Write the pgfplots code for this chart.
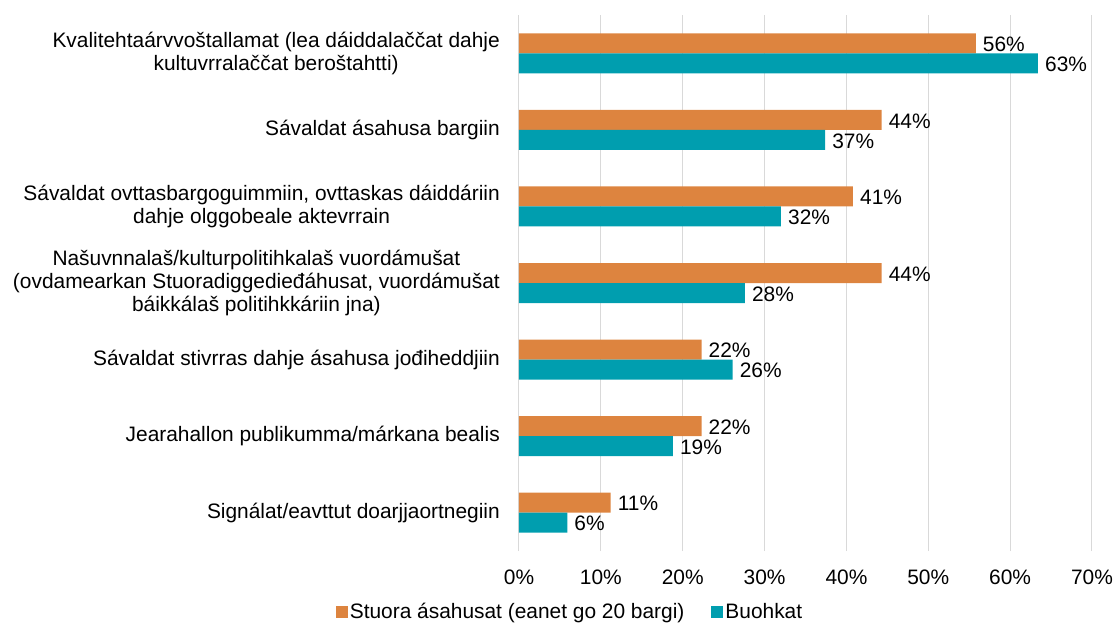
\documentclass[border=0pt]{standalone}
\usepackage{fontspec}
\setmainfont{Liberation Sans}
\usepackage{pgfplots}
\pgfplotsset{compat=1.18}
\definecolor{corange}{HTML}{DD843F}
\definecolor{cteal}{HTML}{009EAF}
\definecolor{cgrid}{HTML}{D9D9D9}
\newcommand{\cf}{\fontsize{20.9}{23.3}\selectfont}
\begin{document}
\cf
\begin{tikzpicture}
\useasboundingbox (0,0) rectangle (1117pt,625pt);
\begin{axis}[
  at={(519pt,74pt)}, anchor=south west,
  scale only axis, width=573pt, height=536pt,
  xbar, bar width=20pt,
  xmin=0, xmax=70, ymin=-0.5, ymax=6.5,
  xtick={0,10,...,70},
  xticklabel={\pgfmathprintnumber{\tick}\%},
  /pgf/number format/assume math mode=true,
  xmajorgrids, grid style={cgrid, line width=1pt},
  major tick length=0pt,
  axis line style={draw=none},
  ytick={0,...,6},
  yticklabels={
    {Signálat/eavttut doarjjaortnegiin},
    {Jearahallon publikumma/márkana bealis},
    {Sávaldat stivrras dahje ásahusa jođiheddjiin},
    {Našuvnnalaš/kulturpolitihkalaš vuordámušat\\(ovdamearkan Stuoradiggedieđáhusat, vuordámušat\\báikkálaš politihkkáriin jna)},
    {Sávaldat ovttasbargoguimmiin, ovttaskas dáiddáriin\\dahje olggobeale aktevrrain},
    {Sávaldat ásahusa bargiin},
    {Kvalitehtaárvvoštallamat (lea dáiddalaččat dahje\\kultuvrralaččat beroštahtti)}
  },
  yticklabel style={align=center, inner sep=0pt, xshift=-19pt, font=\cf},
  xticklabel style={inner sep=0pt, yshift=-19pt, font=\cf},
  nodes near coords={\pgfmathprintnumber[fixed,precision=0]{\pgfplotspointmeta}\%},
  nodes near coords style={anchor=west, inner sep=7pt, yshift=-1pt, font=\cf, black},
  legend style={draw=none, at={(0.089,-0.114)}, anchor=center, legend columns=2,
    font=\cf, inner sep=0pt,
    /tikz/every even column/.append style={column sep=25pt},
    legend cell align=left},
  legend image code/.code={\fill[#1,draw=none] (0pt,-6pt) rectangle (12pt,6pt);},
]
\addplot[fill=corange, draw=none, bar shift=10pt] coordinates {
  (11.2,0) (22.3,1) (22.3,2) (44.3,3) (40.8,4) (44.3,5) (55.8,6)};
\addlegendentry{Stuora ásahusat (eanet go 20 bargi)}
\addplot[fill=cteal, draw=none, bar shift=-10pt] coordinates {
  (5.9,0) (18.8,1) (26.1,2) (27.6,3) (32.0,4) (37.4,5) (63.4,6)};
\addlegendentry{Buohkat}
\end{axis}
\end{tikzpicture}
\end{document}
